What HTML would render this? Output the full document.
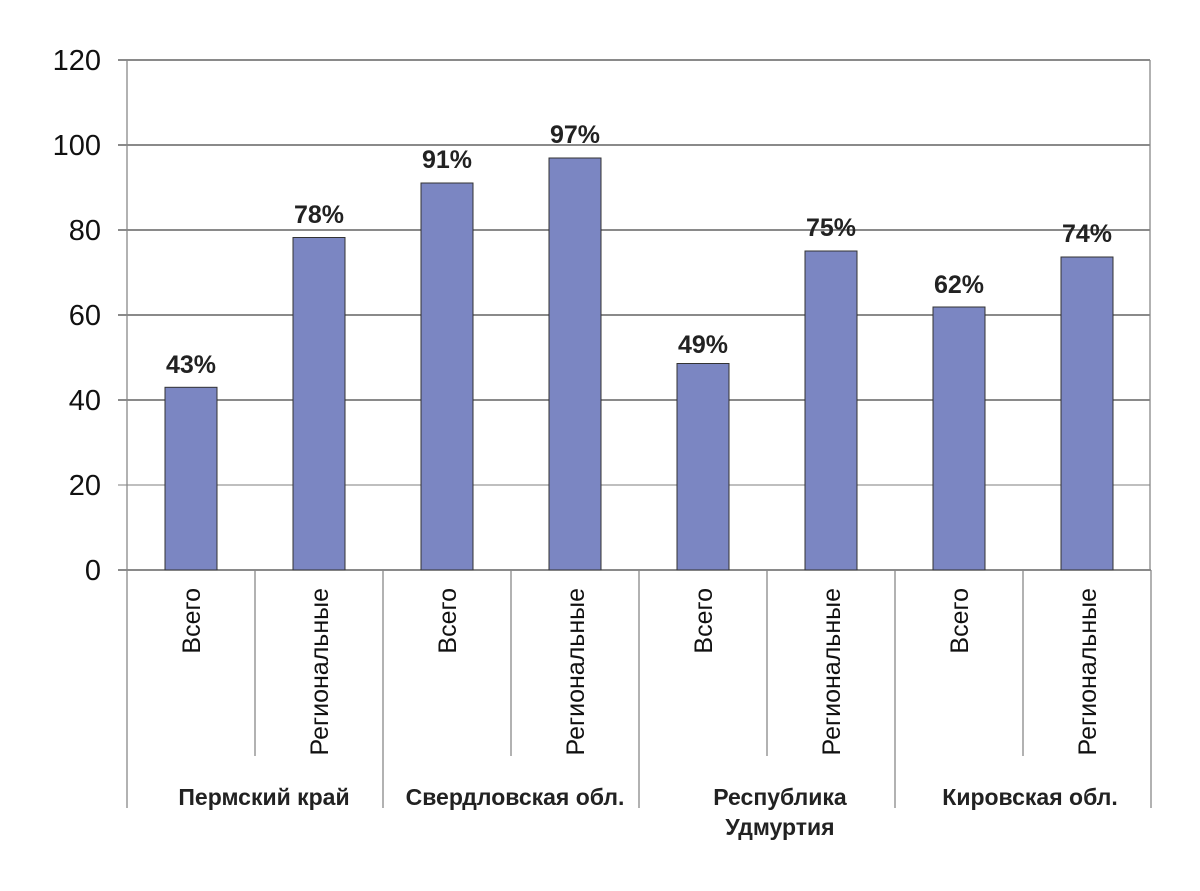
<!DOCTYPE html>
<html><head><meta charset="utf-8"><style>body{margin:0;background:#fff}</style></head><body>
<svg width="1200" height="886" xmlns="http://www.w3.org/2000/svg" font-family="Liberation Sans, Arial, sans-serif">
<g stroke="#444" stroke-width="1.3">
<line x1="118" y1="60" x2="1150" y2="60"/>
<line x1="118" y1="145" x2="1150" y2="145"/>
<line x1="118" y1="230" x2="1150" y2="230"/>
<line x1="118" y1="315" x2="1150" y2="315"/>
<line x1="118" y1="400" x2="1150" y2="400"/>
<line x1="118" y1="485" x2="1150" y2="485" stroke="#999"/>
<line x1="118" y1="570" x2="1151" y2="570"/>
<line x1="1150" y1="60" x2="1150" y2="570" stroke="#888"/>
</g>
<g stroke="#888" stroke-width="1.3">
<line x1="127" y1="60" x2="127" y2="808"/>
<line x1="255" y1="570" x2="255" y2="756"/>
<line x1="383" y1="570" x2="383" y2="808"/>
<line x1="511" y1="570" x2="511" y2="756"/>
<line x1="639" y1="570" x2="639" y2="808"/>
<line x1="767" y1="570" x2="767" y2="756"/>
<line x1="895" y1="570" x2="895" y2="808"/>
<line x1="1023" y1="570" x2="1023" y2="756"/>
<line x1="1151" y1="570" x2="1151" y2="808"/>
</g>
<g font-size="29" fill="#111" text-anchor="end">
<text x="101" y="70">120</text><text x="101" y="155">100</text><text x="101" y="240">80</text>
<text x="101" y="325">60</text><text x="101" y="410">40</text><text x="101" y="495">20</text><text x="101" y="580">0</text>
</g>
<g fill="#7b86c2" stroke="#333" stroke-width="1">
<rect x="165" y="387.3" width="52" height="182.7"/>
<rect x="293" y="237.5" width="52" height="332.5"/>
<rect x="421" y="183" width="52" height="387"/>
<rect x="549" y="158" width="52" height="412"/>
<rect x="677" y="363.5" width="52" height="206.5"/>
<rect x="805" y="251" width="52" height="319"/>
<rect x="933" y="307" width="52" height="263"/>
<rect x="1061" y="257" width="52" height="313"/>
</g>
<g font-size="25" font-weight="bold" fill="#222" text-anchor="middle">
<text x="191" y="373">43%</text><text x="319" y="223">78%</text><text x="447" y="168">91%</text>
<text x="575" y="143">97%</text><text x="703" y="353">49%</text><text x="831" y="236">75%</text>
<text x="959" y="293">62%</text><text x="1087" y="242">74%</text>
</g>
<g font-size="25" fill="#111" text-anchor="end">
<text transform="translate(200,588) rotate(-90)">Всего</text>
<text transform="translate(328,588) rotate(-90)">Региональные</text>
<text transform="translate(456,588) rotate(-90)">Всего</text>
<text transform="translate(584,588) rotate(-90)">Региональные</text>
<text transform="translate(712,588) rotate(-90)">Всего</text>
<text transform="translate(840,588) rotate(-90)">Региональные</text>
<text transform="translate(968,588) rotate(-90)">Всего</text>
<text transform="translate(1096,588) rotate(-90)">Региональные</text>
</g>
<g font-size="23" font-weight="bold" fill="#222" text-anchor="middle">
<text x="264" y="805">Пермский край</text>
<text x="515" y="805">Свердловская обл.</text>
<text x="780" y="805">Республика</text>
<text x="780" y="835">Удмуртия</text>
<text x="1030" y="805">Кировская обл.</text>
</g>
</svg>
</body></html>
